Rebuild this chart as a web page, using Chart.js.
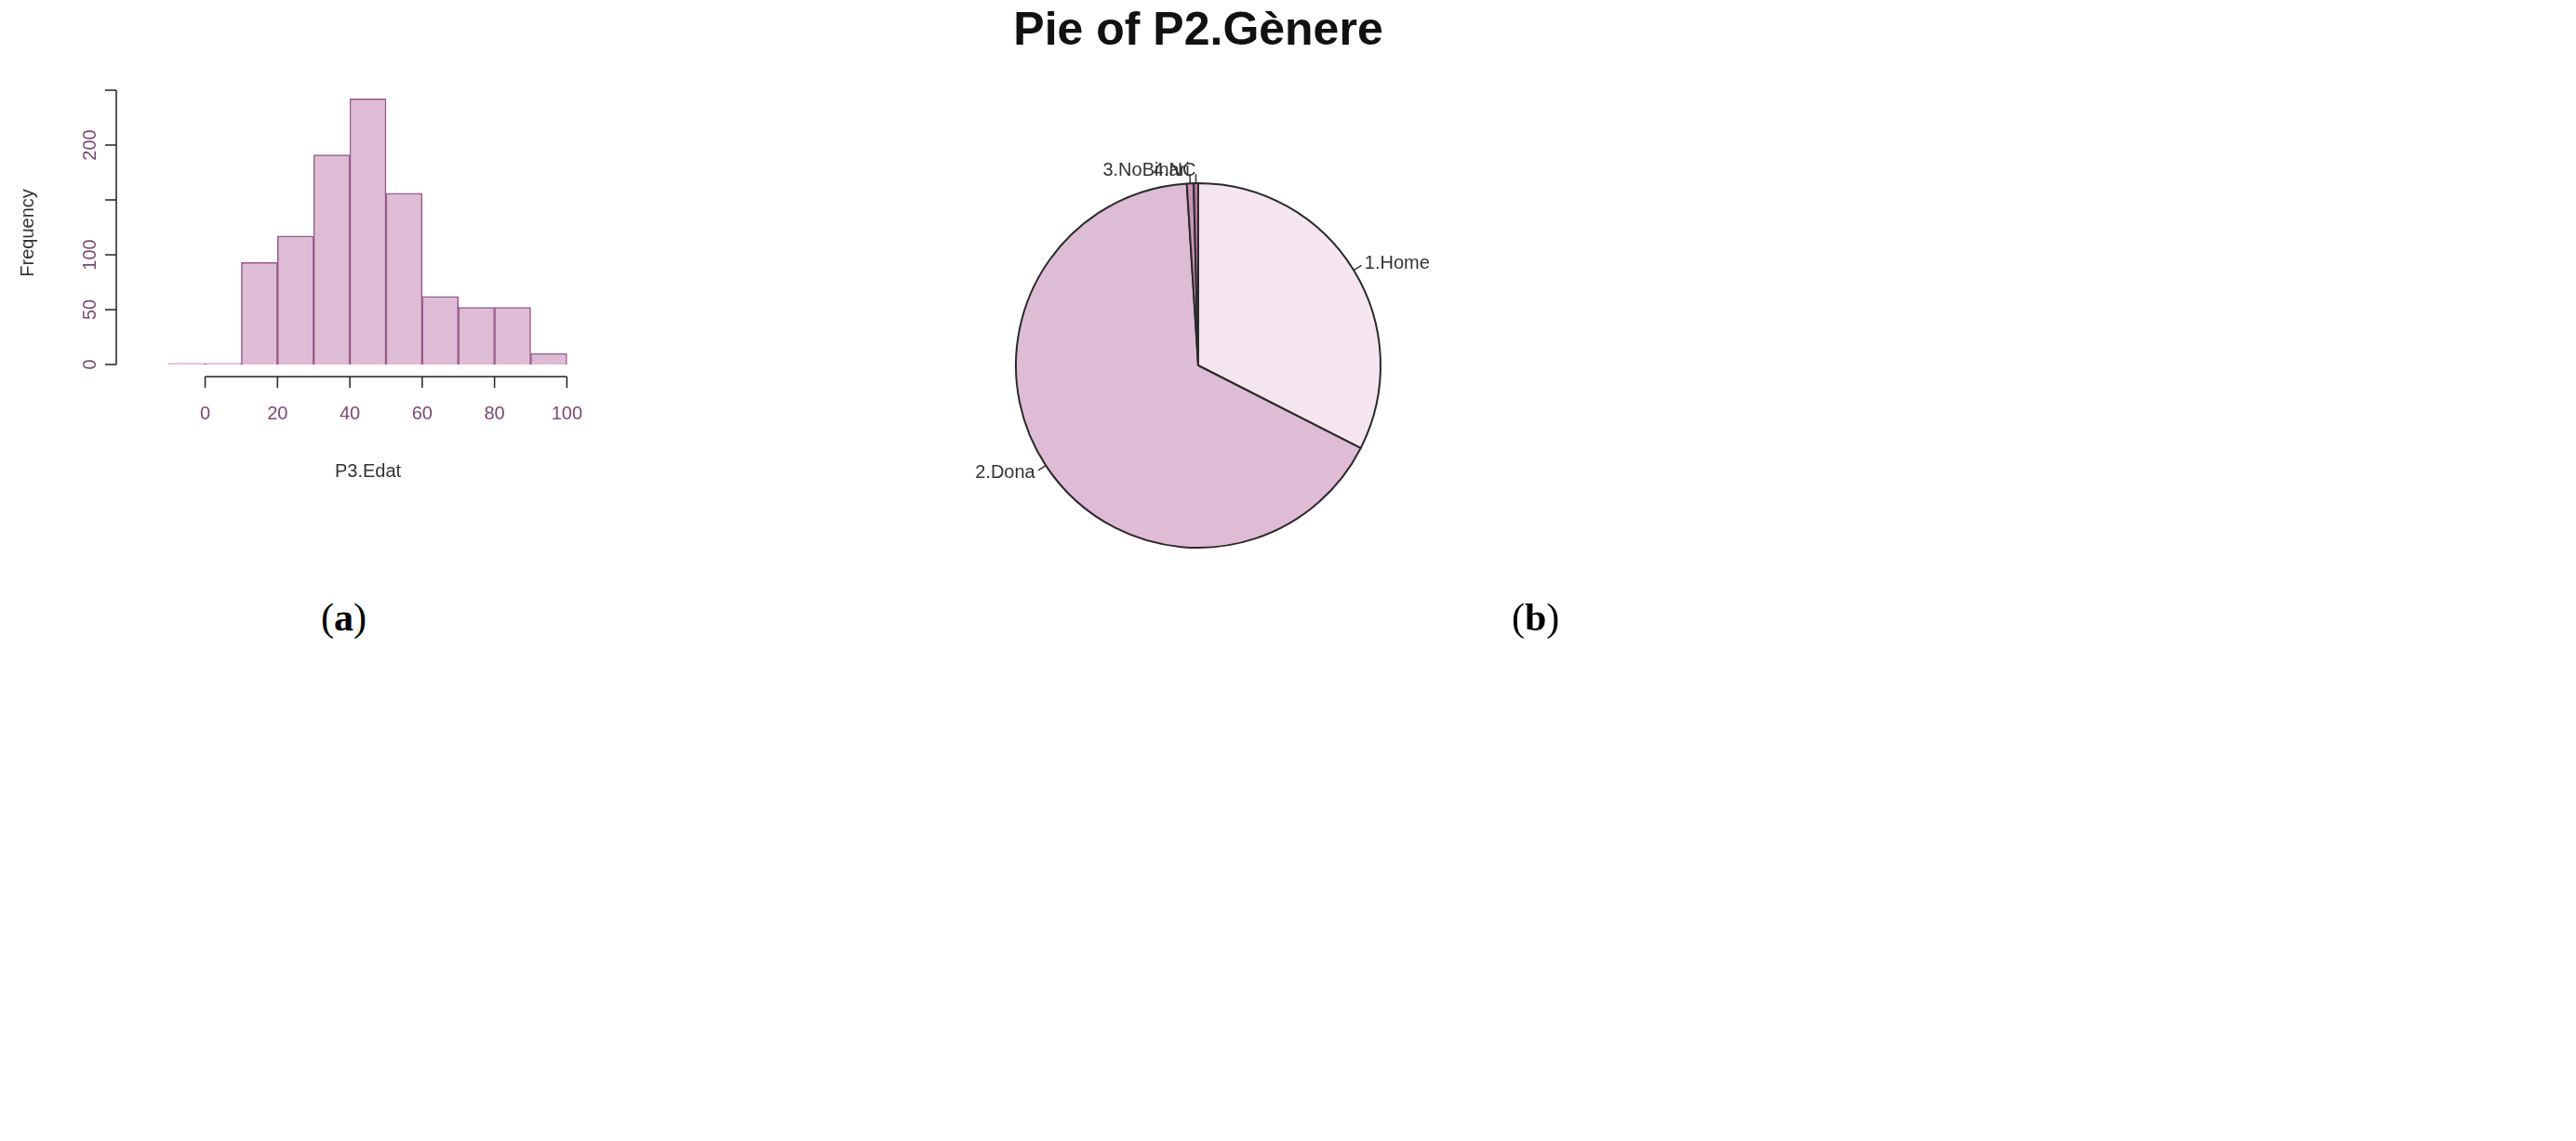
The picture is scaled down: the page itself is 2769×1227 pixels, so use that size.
<!DOCTYPE html>
<html>
<head>
<meta charset="utf-8">
<script src="https://cdn.jsdelivr.net/npm/chart.js@4"></script>
<style>
  body { margin: 0; width: 2769px; height: 1227px; background: #fff; position: relative; overflow: hidden; font-family: "Liberation Sans", Arial, sans-serif; }
  canvas { position: absolute; }
  .cap { position: absolute; font-family: "Liberation Serif", serif; font-size: 42px; top: 640px; }
  #title { position: absolute; left: 1288px; top: 2px; transform: translateX(-50%); font-size: 50px; font-weight: bold; color: #111; white-space: nowrap; }
</style>
</head>
<body>
<canvas id="hist" width="720" height="600" style="left:0;top:0;width:720px;height:600px"></canvas>
<canvas id="pie" width="800" height="600" style="left:900px;top:100px;width:800px;height:600px"></canvas>
<div id="title">Pie of P2.Gènere</div>
<div class="cap" style="left:345px">(<b>a</b>)</div>
<div class="cap" style="left:1625px">(<b>b</b>)</div>
<script>
// histogram of P3.Edat
const binCentres = [-5, 5, 15, 25, 35, 45, 55, 65, 75, 85, 95];
const frequencies = [1, 1, 93, 117, 191, 242, 156, 62, 52, 52, 10];
const yTicks = [0, 50, 100, 150, 200, 250];
const yLabels = ['0', '50', '100', '', '200', ''];
const xTicks = [0, 20, 40, 60, 80, 100];

// pie of P2.Gènere
const genderLabels = ['1.Home', '2.Dona', '3.NoBinari', '4.NC'];
const genderShares = [32.5, 66.5, 0.6, 0.4];
const pieColours = ['#f5e5f0', '#dfbcd6', '#c994b8', '#b87aa5'];

const tickColour = '#7a4a70';

const rAxes = {
  id: 'rAxes',
  afterDraw(chart) {
    const ctx = chart.ctx;
    const xs = chart.scales.x, ys = chart.scales.y;
    ctx.save();
    ctx.strokeStyle = '#222';
    ctx.lineWidth = 1.5;
    // y axis
    const ax = 125;
    ctx.beginPath();
    ctx.moveTo(ax, ys.getPixelForValue(0));
    ctx.lineTo(ax, ys.getPixelForValue(250));
    yTicks.forEach(v => { const p = ys.getPixelForValue(v); ctx.moveTo(ax, p); ctx.lineTo(ax - 12, p); });
    ctx.stroke();
    ctx.fillStyle = tickColour;
    ctx.font = '20px "Liberation Sans", Arial';
    ctx.textAlign = 'center';
    ctx.textBaseline = 'bottom';
    yTicks.forEach((v, i) => {
      if (!yLabels[i]) return;
      ctx.save();
      ctx.translate(ax - 18, ys.getPixelForValue(v));
      ctx.rotate(-Math.PI / 2);
      ctx.fillText(yLabels[i], 0, 0);
      ctx.restore();
    });
    // x axis
    const ay = 405;
    ctx.beginPath();
    ctx.moveTo(xs.getPixelForValue(0), ay);
    ctx.lineTo(xs.getPixelForValue(100), ay);
    xTicks.forEach(v => { const p = xs.getPixelForValue(v); ctx.moveTo(p, ay); ctx.lineTo(p, ay + 12); });
    ctx.stroke();
    ctx.textBaseline = 'top';
    xTicks.forEach(v => ctx.fillText(String(v), xs.getPixelForValue(v), ay + 30));
    // titles
    ctx.fillStyle = '#333';
    ctx.fillText('P3.Edat', xs.getPixelForValue(45), 497);
    ctx.save();
    ctx.translate(30, ys.getPixelForValue(120));
    ctx.rotate(-Math.PI / 2);
    ctx.textBaseline = 'middle';
    ctx.fillText('Frequency', 0, 0);
    ctx.restore();
    ctx.restore();
  }
};

new Chart(document.getElementById('hist'), {
  type: 'bar',
  data: {
    datasets: [{
      data: binCentres.map((x, i) => ({ x: x, y: frequencies[i] })),
      backgroundColor: '#dfbcd6',
      borderColor: '#9a5a8a',
      borderWidth: 1.5,
      barPercentage: 1,
      categoryPercentage: 1
    }]
  },
  options: {
    responsive: false,
    animation: false,
    devicePixelRatio: 1,
    layout: { padding: { left: 146, right: 75, top: 97, bottom: 208 } },
    plugins: { legend: { display: false }, tooltip: { enabled: false } },
    scales: {
      x: { type: 'linear', min: -10, max: 100, display: false },
      y: { min: 0, max: 250, display: false }
    }
  },
  plugins: [rAxes]
});

const pieLabels = {
  id: 'pieLabels',
  afterDraw(chart) {
    const ctx = chart.ctx;
    ctx.save();
    ctx.font = '20px "Liberation Sans", Arial';
    ctx.fillStyle = '#333';
    ctx.strokeStyle = '#333';
    ctx.lineWidth = 1.5;
    chart.getDatasetMeta(0).data.forEach((arc, i) => {
      const mid = (arc.startAngle + arc.endAngle) / 2;
      const r = arc.outerRadius;
      const c = Math.cos(mid), s = Math.sin(mid);
      ctx.beginPath();
      ctx.moveTo(arc.x + c * r, arc.y + s * r);
      ctx.lineTo(arc.x + c * r * 1.05, arc.y + s * r * 1.05);
      ctx.stroke();
      ctx.textAlign = c >= 0 ? 'left' : 'right';
      ctx.textBaseline = 'middle';
      ctx.fillText(genderLabels[i], arc.x + c * r * 1.07, arc.y + s * r * 1.07);
    });
    ctx.restore();
  }
};

new Chart(document.getElementById('pie'), {
  type: 'pie',
  data: {
    labels: genderLabels,
    datasets: [{
      data: genderShares,
      backgroundColor: pieColours,
      borderColor: '#2a2a2a',
      borderWidth: 2
    }]
  },
  options: {
    responsive: false,
    animation: false,
    devicePixelRatio: 1,
    layout: { padding: { left: 191, right: 215, top: 95, bottom: 109 } },
    plugins: { legend: { display: false }, tooltip: { enabled: false } }
  },
  plugins: [pieLabels]
});
</script>
</body>
</html>
